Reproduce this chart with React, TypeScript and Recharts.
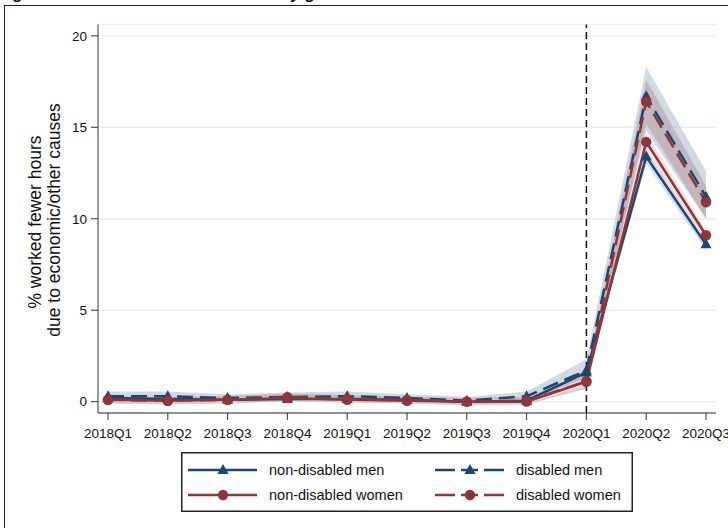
import React from "react";
import { ComposedChart, Line, Area, XAxis, YAxis, CartesianGrid, ReferenceLine } from "recharts";

const quarters = ["2018Q1", "2018Q2", "2018Q3", "2018Q4", "2019Q1", "2019Q2", "2019Q3", "2019Q4", "2020Q1", "2020Q2", "2020Q3"];

const nonDisMen = [0.2, 0.15, 0.1, 0.15, 0.15, 0.1, 0.0, 0.05, 1.6, 13.4, 8.6];
const nonDisMenLo = [0.1, 0.05, 0.0, 0.05, 0.05, 0.0, -0.1, -0.05, 1.4, 13.0, 8.3];
const nonDisMenHi = [0.3, 0.25, 0.2, 0.25, 0.25, 0.2, 0.1, 0.15, 1.8, 13.8, 8.9];

const disMen = [0.3, 0.3, 0.2, 0.25, 0.3, 0.2, 0.05, 0.3, 1.7, 16.7, 11.2];
const disMenLo = [0.05, 0.05, 0.0, 0.0, 0.05, 0.0, -0.15, 0.05, 1.2, 14.8, 10.0];
const disMenHi = [0.55, 0.55, 0.4, 0.5, 0.55, 0.4, 0.25, 0.55, 2.3, 18.3, 12.6];

const nonDisWomen = [0.1, 0.05, 0.1, 0.2, 0.1, 0.05, 0.0, 0.0, 1.1, 14.2, 9.1];
const nonDisWomenLo = [0.0, -0.05, 0.0, 0.1, 0.0, -0.05, -0.1, -0.1, 0.9, 13.8, 8.8];
const nonDisWomenHi = [0.2, 0.15, 0.2, 0.3, 0.2, 0.15, 0.1, 0.1, 1.3, 14.7, 9.4];

const disWomen = [0.1, 0.05, 0.1, 0.25, 0.15, 0.1, 0.0, 0.05, 1.1, 16.4, 10.9];
const disWomenLo = [-0.1, -0.15, -0.1, 0.05, -0.05, -0.1, -0.2, -0.15, 0.7, 15.2, 10.0];
const disWomenHi = [0.3, 0.25, 0.3, 0.45, 0.35, 0.3, 0.2, 0.25, 1.5, 17.6, 11.8];

const yTicks = [0, 5, 10, 15, 20];

const NAVY = "#1a476f";
const MAROON = "#90353b";
const FONT = "'Liberation Sans', Arial, sans-serif";

const data = quarters.map((q, i) => ({
  q,
  ndm: nonDisMen[i],
  dm: disMen[i],
  ndw: nonDisWomen[i],
  dw: disWomen[i],
  ndmBand: [nonDisMenLo[i], nonDisMenHi[i]],
  dmBand: [disMenLo[i], disMenHi[i]],
  ndwBand: [nonDisWomenLo[i], nonDisWomenHi[i]],
  dwBand: [disWomenLo[i], disWomenHi[i]],
}));

function Triangle({ cx, cy, color }: { cx: number; cy: number; color: string }) {
  if (cx == null || cy == null) return null;
  return <path d={`M${cx},${cy - 6} L${cx + 5.5},${cy + 4} L${cx - 5.5},${cy + 4} Z`} fill={color} />;
}

function Circle({ cx, cy, color }: { cx: number; cy: number; color: string }) {
  if (cx == null || cy == null) return null;
  return <circle cx={cx} cy={cy} r={5.2} fill={color} />;
}

const triDot = (color: string) => (p: any) => <Triangle key={`t${p.index}`} cx={p.cx} cy={p.cy} color={color} />;
const circDot = (color: string) => (p: any) => <Circle key={`c${p.index}`} cx={p.cx} cy={p.cy} color={color} />;

function YTitle() {
  return (
    <g fontFamily={FONT} fontSize={17.5} fill="#111">
      <text transform="translate(41,222) rotate(-90)" textAnchor="middle">% worked fewer hours</text>
      <text transform="translate(60,220) rotate(-90)" textAnchor="middle">due to economic/other causes</text>
    </g>
  );
}

function LegendBox() {
  const items = [
    { label: "non-disabled men", color: NAVY, dashed: false, tri: true, x: 7, y: 18 },
    { label: "disabled men", color: NAVY, dashed: true, tri: true, x: 254, y: 18 },
    { label: "non-disabled women", color: MAROON, dashed: false, tri: false, x: 7, y: 43 },
    { label: "disabled women", color: MAROON, dashed: true, tri: false, x: 254, y: 43 },
  ];
  return (
    <svg width={452} height={60} style={{ display: "block" }}>
      <rect x={0.75} y={0.75} width={450.5} height={58.5} fill="#fff" stroke="#222" strokeWidth={1.5} />
      {items.map((it) => (
        <g key={it.label}>
          <line
            x1={it.x}
            x2={it.x + 69}
            y1={it.y}
            y2={it.y}
            stroke={it.color}
            strokeWidth={2.5}
            strokeDasharray={it.dashed ? "20 6 17 6 20" : undefined}
          />
          {it.tri ? <Triangle cx={it.x + 35} cy={it.y} color={it.color} /> : <Circle cx={it.x + 35} cy={it.y} color={it.color} />}
          <text x={it.x + 81} y={it.y + 5} fontFamily={FONT} fontSize={14.5} fill="#111">
            {it.label}
          </text>
        </g>
      ))}
    </svg>
  );
}

export default function App() {
  return (
    <div style={{ position: "absolute", left: 0, top: 0, width: 728, height: 528, overflow: "hidden", background: "#fff" }}>
      <div style={{ position: "absolute", left: 4, top: 5, width: 760, height: 560, border: "1.5px solid #222", boxSizing: "border-box" }} />
      <svg width={728} height={8} style={{ position: "absolute", left: 0, top: 0 }}>
        <text x={12} y={-1} fontFamily={FONT} fontWeight="bold" fontSize={17} fill="#111">g</text>
        <text x={290} y={-1} fontFamily={FONT} fontWeight="bold" fontSize={17} fill="#111">y g</text>
      </svg>
      <div style={{ position: "absolute", left: 0, top: 0 }}>
        <ComposedChart width={728} height={528} data={data} margin={{ top: 24.5, right: 12, bottom: 85, left: 58 }}>
          <CartesianGrid horizontal vertical={false} stroke="#e6eef2" strokeWidth={1.5} />
          <XAxis
            dataKey="q"
            interval={0}
            padding={{ left: 10, right: 10 }}
            height={30}
            tickSize={7}
            stroke="#333"
            tick={{ fill: "#111", fontSize: 13.5, fontFamily: FONT }}
            tickMargin={8}
          />
          <YAxis
            type="number"
            domain={[-0.62, 20.62]}
            ticks={yTicks}
            width={40}
            tickSize={7}
            stroke="#333"
            tick={{ fill: "#111", fontSize: 13.5, fontFamily: FONT }}
            tickMargin={4}
            label={<YTitle />}
          />
          <Area dataKey="dmBand" stroke="none" fill="#b7c6d3" fillOpacity={0.65} isAnimationActive={false} />
          <Area dataKey="dwBand" stroke="none" fill="#b48b93" fillOpacity={0.45} isAnimationActive={false} />
          <Area dataKey="ndmBand" stroke="none" fill="#b7c6d3" fillOpacity={0.6} isAnimationActive={false} />
          <Area dataKey="ndwBand" stroke="none" fill="#f3dcdf" fillOpacity={0.85} isAnimationActive={false} />
          <ReferenceLine x="2020Q1" stroke="#111" strokeWidth={1.5} strokeDasharray="7 4" />
          <Line dataKey="ndm" stroke={NAVY} strokeWidth={2.5} dot={triDot(NAVY)} activeDot={false} isAnimationActive={false} />
          <Line dataKey="dm" stroke={NAVY} strokeWidth={2.5} strokeDasharray="16 7" dot={triDot(NAVY)} activeDot={false} isAnimationActive={false} />
          <Line dataKey="ndw" stroke={MAROON} strokeWidth={2.5} dot={circDot(MAROON)} activeDot={false} isAnimationActive={false} />
          <Line dataKey="dw" stroke={MAROON} strokeWidth={2.5} strokeDasharray="16 7" dot={circDot(MAROON)} activeDot={false} isAnimationActive={false} />
        </ComposedChart>
      </div>
      <div style={{ position: "absolute", left: 181, top: 452 }}>
        <LegendBox />
      </div>
    </div>
  );
}
